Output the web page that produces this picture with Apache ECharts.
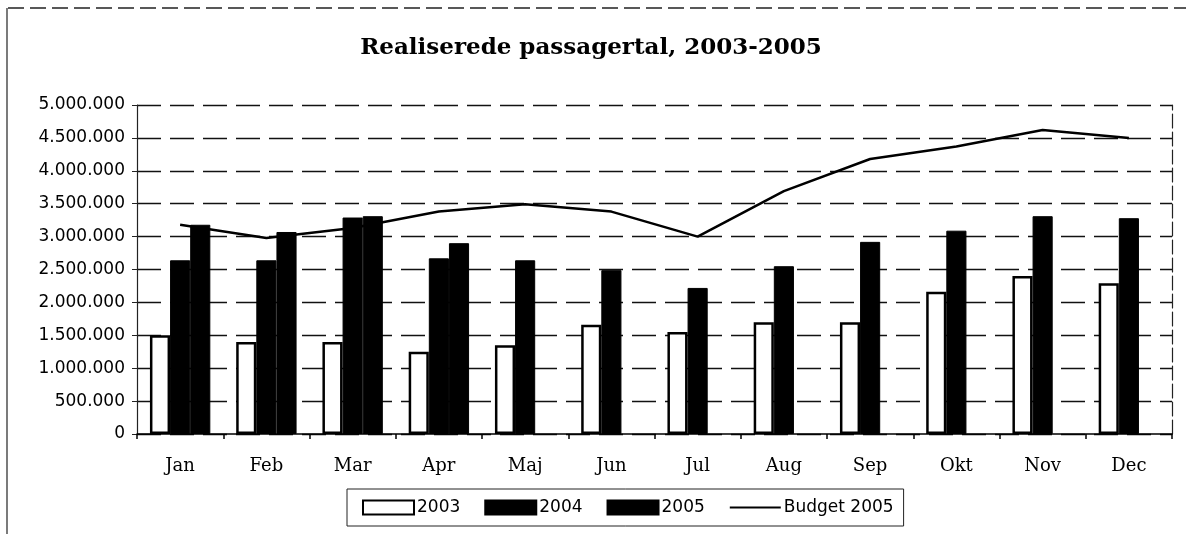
<!DOCTYPE html>
<html>
<head>
<meta charset="utf-8">
<script src="https://cdn.jsdelivr.net/npm/echarts@6/dist/echarts.min.js"></script>
<style>
  html, body { margin: 0; padding: 0; background: #fff; }
  #chart { width: 1186px; height: 534px; }
</style>
</head>
<body>
<div id="chart"></div>
<script>
// ---- data ----
const titleText = 'Realiserede passagertal, 2003-2005';
const months = ['Jan', 'Feb', 'Mar', 'Apr', 'Maj', 'Jun', 'Jul', 'Aug', 'Sep', 'Okt', 'Nov', 'Dec'];
const seriesNames = ['2003', '2004', '2005', 'Budget 2005'];
const values2003 = [1500000, 1400000, 1400000, 1250000, 1350000, 1660000, 1550000, 1700000, 1700000, 2160000, 2400000, 2290000];
const values2004 = [2640000, 2640000, 3290000, 2670000, 2640000, 2490000, 2220000, 2550000, 2920000, 3090000, 3310000, 3280000];
const values2005 = [3180000, 3070000, 3310000, 2900000, null, null, null, null, null, null, null, null];
const budget2005 = [3180000, 2980000, 3130000, 3380000, 3490000, 3380000, 3000000, 3690000, 4180000, 4370000, 4620000, 4500000];
const yMin = 0, yMax = 5000000, yStep = 500000;

function fmt(v) {
  return String(v).replace(/\B(?=(\d{3})+(?!\d))/g, '.');
}

const chart = echarts.init(document.getElementById('chart'), null, { renderer: 'canvas' });

const gridDash = [24, 9];

chart.setOption({
  backgroundColor: '#ffffff',
  animation: false,
  title: {
    text: titleText,
    left: 586,
    textAlign: 'center',
    top: 32,
    textStyle: {
      fontFamily: 'DejaVu Serif',
      fontWeight: 'bold',
      fontSize: 23,
      color: '#000'
    }
  },
  legend: {
    left: 347,
    top: 489,
    padding: [10, 10, 10, 15],
    itemGap: 24,
    itemWidth: 51,
    itemHeight: 14,
    borderColor: '#222',
    borderWidth: 1,
    backgroundColor: '#fff',
    textStyle: { fontFamily: 'DejaVu Sans', fontSize: 17, color: '#000', padding: [0, 0, 0, -2] },
    data: [
      { name: seriesNames[0], icon: 'rect' },
      { name: seriesNames[1], icon: 'rect' },
      { name: seriesNames[2], icon: 'rect' },
      { name: seriesNames[3], itemStyle: { opacity: 0 } }
    ]
  },
  grid: {
    left: 137,
    right: 14,
    top: 105,
    bottom: 100,
    containLabel: false
  },
  xAxis: {
    type: 'category',
    data: months,
    boundaryGap: true,
    axisLine: { show: true, lineStyle: { color: '#000', width: 1.5 } },
    axisTick: { show: true, length: 5, lineStyle: { color: '#000', width: 1.5 } },
    axisLabel: {
      margin: 23,
      fontFamily: 'DejaVu Serif',
      fontSize: 18,
      color: '#000'
    }
  },
  yAxis: [{
    type: 'value',
    min: yMin,
    max: yMax,
    interval: yStep,
    axisLine: { show: true, lineStyle: { color: '#222', width: 1.2 } },
    axisTick: { show: true, length: 5, lineStyle: { color: '#222' } },
    axisLabel: {
      margin: 12,
      fontFamily: 'DejaVu Sans',
      fontSize: 17,
      color: '#000',
      formatter: fmt
    },
    splitLine: { show: true, lineStyle: { color: '#111', width: 1.3, type: gridDash } }
  }, {
    type: 'value',
    position: 'right',
    min: yMin,
    max: yMax,
    interval: yStep,
    axisLine: { show: true, lineStyle: { color: '#222', width: 1.2, type: [14, 4] } },
    axisTick: { show: false },
    axisLabel: { show: false },
    splitLine: { show: false }
  }],
  series: [
    {
      name: '2003',
      type: 'bar',
      data: values2003,
      barGap: '0%',
      barCategoryGap: '30%',
      itemStyle: {
        color: '#fff',
        borderColor: '#000',
        borderWidth: 2.5
      }
    },
    {
      name: '2004',
      type: 'bar',
      data: values2004,
      barGap: '0%',
      barCategoryGap: '30%',
      itemStyle: { color: '#000', borderColor: '#000', borderWidth: 1 }
    },
    {
      name: '2005',
      type: 'bar',
      data: values2005,
      barGap: '0%',
      barCategoryGap: '30%',
      itemStyle: { color: '#000', borderColor: '#000', borderWidth: 1 }
    },
    {
      name: 'Budget 2005',
      type: 'line',
      data: budget2005,
      symbol: 'none',
      smooth: false,
      lineStyle: { color: '#000', width: 2.5 },
      itemStyle: { color: '#000' },
      z: 5
    }
  ],
  graphic: [
    {
      type: 'line',
      shape: { x1: 8, y1: 8, x2: 1186, y2: 8 },
      style: { stroke: '#222', lineWidth: 1.3, lineDash: [16, 6] },
      silent: true
    },
    {
      type: 'line',
      shape: { x1: 7, y1: 8, x2: 7, y2: 534 },
      style: { stroke: '#222', lineWidth: 1.2 },
      silent: true
    }
  ]
});
</script>
</body>
</html>
